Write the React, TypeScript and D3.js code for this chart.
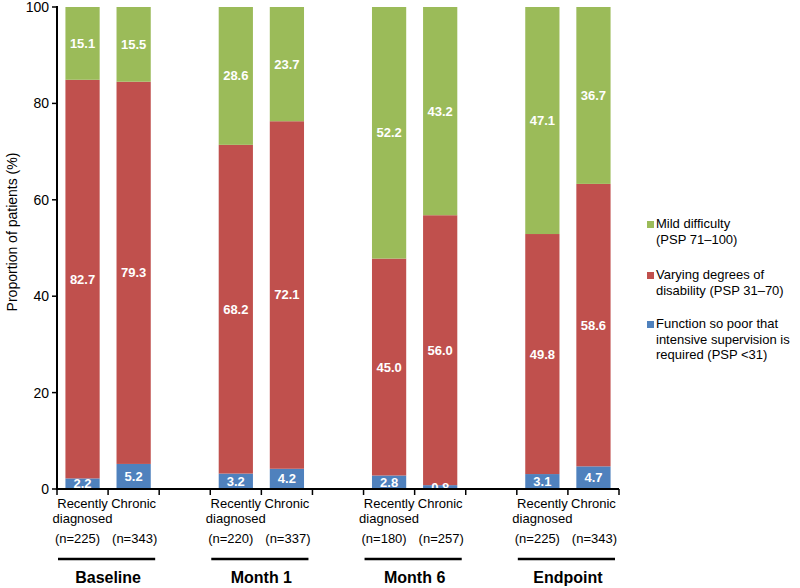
import * as d3 from 'd3';

// slot keys: 11 equal slots on the x axis, gaps between the groups
const slots = ['B-R', 'B-C', 'g1', 'M1-R', 'M1-C', 'g2', 'M6-R', 'M6-C', 'g3', 'E-R', 'E-C'];
const barKeys = ['B-R', 'B-C', 'M1-R', 'M1-C', 'M6-R', 'M6-C', 'E-R', 'E-C'];
const barNames = ['Recently|diagnosed', 'Chronic', 'Recently|diagnosed', 'Chronic', 'Recently|diagnosed', 'Chronic', 'Recently|diagnosed', 'Chronic'];
const nLabels = ['(n=225)', '(n=343)', '(n=220)', '(n=337)', '(n=180)', '(n=257)', '(n=225)', '(n=343)'];
const groups = ['Baseline', 'Month 1', 'Month 6', 'Endpoint'];

const poor = [2.2, 5.2, 3.2, 4.2, 2.8, 0.8, 3.1, 4.7];
const varying = [82.7, 79.3, 68.2, 72.1, 45.0, 56.0, 49.8, 58.6];
const mild = [15.1, 15.5, 28.6, 23.7, 52.2, 43.2, 47.1, 36.7];

const yTicks = [0, 20, 40, 60, 80, 100];

const legendItems = [
  { lines: ['Mild difficulty', '(PSP 71–100)'], color: '#9BBB59' },
  { lines: ['Varying degrees of', 'disability (PSP 31–70)'], color: '#C0504D' },
  { lines: ['Function so poor that', 'intensive supervision is', 'required (PSP <31)'], color: '#4F81BD' },
];

const colors = ['#4F81BD', '#C0504D', '#9BBB59'];
const font = '"Liberation Sans", Arial, sans-serif';

export default function App() {
  const width = 800;
  const height = 588;
  const left = 57;
  const right = 619;
  const top = 7;
  const bottom = 489;

  const x = d3.scaleBand<string>().domain(slots).range([left, right]).paddingInner(0.33).paddingOuter(0.165);
  const step = x.step();
  const y = d3.scaleLinear().domain([0, 100]).range([bottom, top]);

  const rows = barKeys.map((k, i) => ({ key: k, values: [poor[i], varying[i], mild[i]] }));
  const stack = d3.stack<{ key: string; values: number[] }, number>()
    .keys([0, 1, 2])
    .value((d, k) => d.values[k]);
  const series = stack(rows);

  const slotStart = (k: string) => (x(k) as number) - step * 0.165;
  const boundaries = d3.range(slots.length + 1).map((i) => left + i * step);

  return (
    <svg width={width} height={height} style={{ position: 'absolute', left: 0, top: 0, background: '#fff' }} fontFamily={font}>
      {/* bars */}
      {series.map((s, si) => (
        <g key={si} fill={colors[si]}>
          {s.map((d, i) => (
            <rect key={i} x={x(barKeys[i])} width={x.bandwidth()} y={y(d[1])} height={y(d[0]) - y(d[1])} />
          ))}
        </g>
      ))}
      {/* value labels */}
      {series.map((s, si) => (
        <g key={'l' + si} fill="#fff" fontWeight="bold" fontSize={13} textAnchor="middle">
          {s.map((d, i) => (
            <text key={i} x={(x(barKeys[i]) as number) + x.bandwidth() / 2} y={(y(d[0]) + y(d[1])) / 2 + 4.5}>
              {(d[1] - d[0]).toFixed(1)}
            </text>
          ))}
        </g>
      ))}
      {/* y axis */}
      <line x1={left} x2={left} y1={top - 1} y2={bottom + 1} stroke="#000" strokeWidth={2} />
      {yTicks.map((t) => (
        <g key={t}>
          <line x1={left - 5} x2={left} y1={y(t)} y2={y(t)} stroke="#000" strokeWidth={1.5} />
          <text x={left - 8} y={y(t) + 5} textAnchor="end" fontSize={14}>{t}</text>
        </g>
      ))}
      <text transform="translate(17,232) rotate(-90)" textAnchor="middle" fontSize={14}>
        Proportion of patients (%)
      </text>
      {/* x axis */}
      <line x1={left - 1} x2={right} y1={bottom} y2={bottom} stroke="#000" strokeWidth={2} />
      {boundaries.map((b, i) => (
        <line key={i} x1={b} x2={b} y1={bottom} y2={bottom + 6} stroke="#000" strokeWidth={1.5} />
      ))}
      {barKeys.map((k, i) => {
        const cx = (x(k) as number) + x.bandwidth() / 2;
        const parts = barNames[i].split('|');
        return (
          <g key={k} fontSize={13} textAnchor="middle">
            {parts.map((p, j) => (
              <text key={j} x={cx} y={508 + j * 15}>{p}</text>
            ))}
            <text x={cx + (i % 2 === 0 ? -5 : 1)} y={543}>{nLabels[i]}</text>
          </g>
        );
      })}
      {groups.map((g, i) => {
        const s0 = slotStart(barKeys[i * 2]);
        const s1 = slotStart(barKeys[i * 2 + 1]) + step;
        return (
          <g key={g}>
            <line x1={s0 + 1} x2={s1 - 4} y1={559} y2={559} stroke="#000" strokeWidth={2.5} />
            <text x={(s0 + s1) / 2} y={583} textAnchor="middle" fontWeight="bold" fontSize={16}>{g}</text>
          </g>
        );
      })}
      {/* legend */}
      {legendItems.map((item, i) => {
        const baseY = [228, 279, 328][i];
        return (
          <g key={i}>
            <rect x={647} y={baseY - 7} width={7} height={7} fill={item.color} />
            {item.lines.map((l, j) => (
              <text key={j} x={656} y={baseY + j * 15.5} fontSize={13}>{l}</text>
            ))}
          </g>
        );
      })}
    </svg>
  );
}
